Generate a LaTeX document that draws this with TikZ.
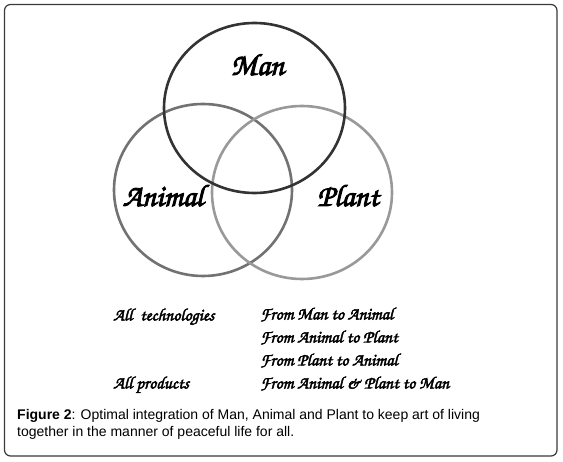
\documentclass[tikz,border=0pt]{standalone}
\usepackage{fontspec}
\usepackage[T1,TU]{fontenc}
\setmainfont{Liberation Sans}
\usetikzlibrary{shapes.geometric}
\newcommand{\handfont}{\fontencoding{T1}\fontfamily{pzc}\fontseries{mb}\fontshape{it}\selectfont}
\newcommand{\fakebold}[2]{\special{pdf:literal direct 2 Tr #1 w}#2\special{pdf:literal direct 0 Tr 1 w}}
\tikzset{
  ring/.style={ellipse, line width=2.6pt, inner sep=0pt, outer sep=0pt},
  biglabel/.style={font=\handfont\fontsize{31}{33}\selectfont, anchor=base, inner sep=0pt, text=black},
  smalltext/.style={font=\handfont\fontsize{17.5}{19}\selectfont, anchor=base west, inner sep=0pt, text=black},
  captext/.style={font=\fontsize{14}{17}\selectfont, anchor=base west, inner sep=0pt, text=black},
}
\definecolor{mancol}{HTML}{333333}
\definecolor{animalcol}{HTML}{727272}
\definecolor{plantcol}{HTML}{999999}
\definecolor{framecol}{HTML}{3A3A3A}
\begin{document}
\begin{tikzpicture}[x=1pt,y=-1pt]
\useasboundingbox (0,0) rectangle (563,462);
\fill[white] (0,0) rectangle (563,462);
\draw[framecol, line width=1.2pt, rounded corners=6pt] (4.5,4.5) rectangle (557,456);
\node[ring, draw=animalcol, minimum width=178pt, minimum height=172pt] (animal) at (203,190) {};
\node[ring, draw=plantcol, minimum width=180pt, minimum height=173pt] (plant) at (302,192.5) {};
\node[ring, draw=mancol, minimum width=181pt, minimum height=170pt] (man) at (254.5,108) {};
\node[biglabel] (manlbl) at (257.5,75) {\fakebold{0.9}{Man}};
\node[biglabel] (animallbl) at (163,206) {\fakebold{0.9}{Animal}};
\node[biglabel] (plantlbl) at (348,206) {\fakebold{0.9}{Plant}};
\node[smalltext] (tech) at (113,320.5) {\fakebold{0.45}{All\ \ technologies}};
\node[smalltext] (prod) at (113,388.5) {\fakebold{0.45}{All products}};
\node[smalltext] (r1) at (260,319.5) {\fakebold{0.45}{From Man to Animal}};
\node[smalltext] (r2) at (260,342.5) {\fakebold{0.45}{From Animal to Plant}};
\node[smalltext] (r3) at (260,365.5) {\fakebold{0.45}{From Plant to Animal}};
\node[smalltext] (r4) at (260,388.5) {\fakebold{0.45}{From Animal \& Plant to Man}};
\node[captext] (cap1) at (17,420) {\textbf{Figure 2}: Optimal integration of Man, Animal and Plant to keep art of living};
\node[captext] (cap2) at (17,437) {together in the manner of peaceful life for all.};
\end{tikzpicture}
\end{document}
